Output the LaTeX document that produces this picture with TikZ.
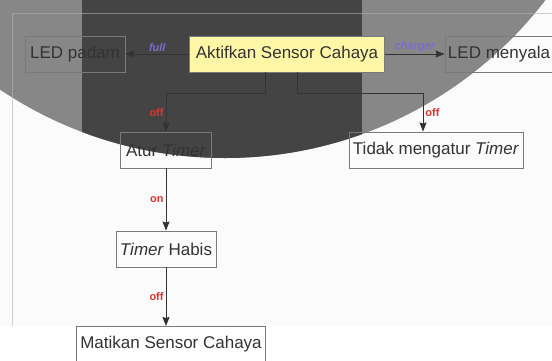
\documentclass[tikz,border=0pt]{standalone}
\usepackage{fontspec}
\setmainfont{Liberation Sans}
\usetikzlibrary{arrows.meta}

\definecolor{inkgrey}{HTML}{333333}
\definecolor{boxline}{HTML}{7A7A7A}
\definecolor{sensoryellow}{HTML}{FFF7A6}
\definecolor{labelpurple}{HTML}{7B6BCF}
\definecolor{labelred}{HTML}{E2322F}
\definecolor{shadeout}{HTML}{878787}
\definecolor{shadein}{HTML}{444444}
\definecolor{paper}{HTML}{FBFBFB}

\tikzset{
  state/.style={draw=boxline,line width=0.9pt,text=inkgrey,
    font=\fontsize{17}{20}\selectfont,minimum height=36pt,inner xsep=4pt},
  arr/.style={->,>={Stealth[length=9pt,width=7pt,inset=1pt]},
    draw=inkgrey,line width=0.9pt},
  cond/.style={font=\fontsize{11}{13}\selectfont\bfseries\itshape,
    text=labelpurple,inner sep=2pt},
  sw/.style={font=\fontsize{11}{13}\selectfont\bfseries,text=labelred,
    inner sep=2pt}
}

\begin{document}
\begin{tikzpicture}[x=1pt,y=-1pt]
  \useasboundingbox (0,0) rectangle (552,360);
  % page and shading
  \fill[white] (0,0) rectangle (552,360);
  \fill[paper] (0,0) rectangle (552,326);
  \begin{scope}
    \clip (0,0) rectangle (552,360);
    \fill[shadeout] (225,-246) circle (404);
    \clip (225,-246) circle (404);
    \fill[shadein] (82,-10) rectangle (362,400);
  \end{scope}
  \draw[black!30,opacity=0.6,line width=0.8pt] (12,326) -- (12,13) -- (552,13);

  % states
  \node [state,fill=sensoryellow,minimum width=195pt] (aktif) at (287,54)
    {Aktifkan Sensor Cahaya};
  \node [state,minimum width=100pt] (padam) at (75,54) {LED padam};
  \node [state,minimum width=108pt,inner xsep=2pt] (nyala) at (499,54)
    {LED menyala};
  \node [state,minimum width=91pt] (atur) at (166,150) {Atur \textit{Timer}};
  \node [state,minimum width=174pt] (tidak) at (436,150)
    {Tidak mengatur \textit{Timer}};
  \node [state,minimum width=95pt] (habis) at (166,249) {\textit{Timer} Habis};
  \node [state,fill=white,minimum width=186pt,anchor=north] (matikan)
    at (171,326) {Matikan Sensor Cahaya};

  % transitions
  \draw [arr] (aktif) -- node[cond,above] {full} (padam);
  \draw [arr] (aktif) -- node[cond,above] {charger} (nyala);
  \draw [arr] ([xshift=-22pt]aktif.south) -- ++(0,21) -| (atur.north)
    node[sw,left,pos=0.75] {off};
  \draw [arr] ([xshift=10pt]aktif.south) -- ++(0,21)
    -| ([xshift=-13pt]tidak.north) node[sw,right,pos=0.75] {off};
  \draw [arr] (atur) -- node[sw,left] {on} (habis);
  \draw [arr] (habis) -- node[sw,left] {off} (habis.south |- matikan.north);
\end{tikzpicture}
\end{document}
